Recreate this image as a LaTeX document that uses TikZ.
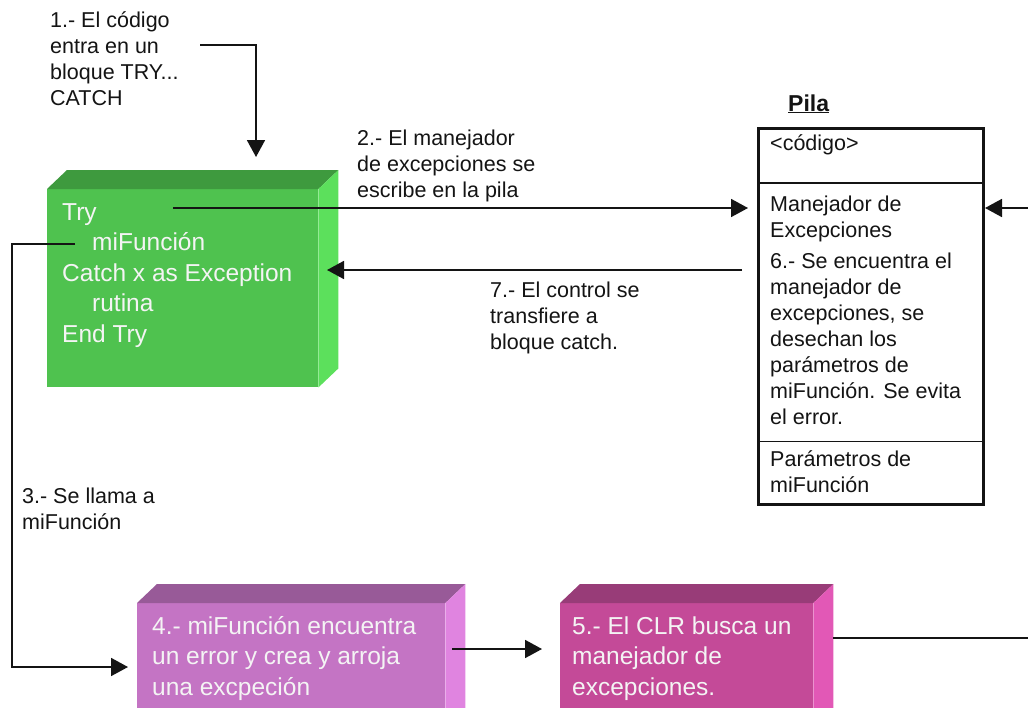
\documentclass[tikz,border=0pt]{standalone}
\usepackage{fontspec}
\setmainfont{Liberation Sans}
\usetikzlibrary{arrows.meta}
% block colours: front, top and side faces
\definecolor{grnfront}{RGB}{79,194,79}
\definecolor{grntop}{RGB}{62,154,62}
\definecolor{grnside}{RGB}{92,224,92}
\definecolor{lilfront}{RGB}{196,116,196}
\definecolor{liltop}{RGB}{152,90,152}
\definecolor{lilside}{RGB}{224,132,224}
\definecolor{magfront}{RGB}{196,74,152}
\definecolor{magtop}{RGB}{152,60,120}
\definecolor{magside}{RGB}{226,88,182}
\definecolor{boxtext}{RGB}{244,244,244}
\definecolor{ink}{RGB}{20,20,20}

% top and right faces of a 3D block whose front face is node #1
\newcommand\blockfaces[3]{%
  \fill[#2] (#1.north west) -- ++(20,-19) -- ([shift={(20,-19)}]#1.north east) -- (#1.north east) -- cycle;
  \fill[#3] (#1.north east) -- ++(20,-19) -- ([shift={(20,-19)}]#1.south east) -- (#1.south east) -- cycle;
}

\begin{document}
% multi-line texts are placed by the baseline of their last line
\begin{tikzpicture}[x=1pt,y=-1pt,
  conn/.style={line width=1.8pt, draw=ink, -{Triangle[length=17pt,width=18pt]}},
  note/.style={font=\fontsize{21.5}{26}\selectfont, align=left, inner sep=0pt, anchor=base west, text=ink},
  blocktext/.style={font=\fontsize{24.5}{30.5}\selectfont, align=left, inner sep=0pt, anchor=base west, text=boxtext},
  front/.style={draw=none, inner sep=0pt, anchor=north west},
]
\useasboundingbox (0,0) rectangle (1028,707);
\fill[white] (0,0) rectangle (1028,707);
\clip (0,0) rectangle (1028,707);

% Try ... Catch block
\node[front, fill=grnfront, minimum width=271pt, minimum height=198pt] (tryblk) at (47,189) {};
\blockfaces{tryblk}{grntop}{grnside}
\node[blocktext] (trycode) at (62,342)
  {Try\\\hspace{30pt}miFunción\\Catch x as Exception\\\hspace{30pt}rutina\\End Try};

% miFunción block
\node[front, fill=lilfront, minimum width=308pt, minimum height=160pt] (funcblk) at (137,603) {};
\blockfaces{funcblk}{liltop}{lilside}
\node[blocktext] (step4) at (152,695)
  {4.- miFunción encuentra\\un error y crea y arroja\\una excpeción};

% CLR block
\node[front, fill=magfront, minimum width=253pt, minimum height=160pt] (clrblk) at (560,603) {};
\blockfaces{clrblk}{magtop}{magside}
\node[blocktext] (step5) at (572,695)
  {5.- El CLR busca un\\manejador de\\excepciones.};

% the stack
\node[font=\bfseries\fontsize{23}{28}\selectfont, anchor=base west, inner sep=0pt, text=ink] (pilatitle) at (788,111) {\underline{Pila}};
\node[draw=ink, line width=2.6pt, minimum width=225pt, minimum height=376pt, inner sep=0pt, anchor=north west] (pila) at (757,127) {};
\draw[ink, line width=1.6pt] ([yshift=-56pt]pila.north west) -- ([yshift=-56pt]pila.north east);
\draw[ink, line width=1.6pt] ([yshift=64pt]pila.south west) -- ([yshift=64pt]pila.south east);
\node[note] (pcode) at (770,150) {<código>};
\node[note] (phandler) at (770,424)
  {Manejador de\\Excepciones\\[5pt]6.- Se encuentra el\\manejador de\\excepciones, se\\desechan los\\parámetros de\\miFunción. Se evita\\el error.};
\node[note] (pparams) at (770,492) {Parámetros de\\miFunción};

% step labels
\node[note] (step1) at (50,105) {1.- El código\\entra en un\\bloque TRY...\\CATCH};
\node[note] (step2) at (357,197) {2.- El manejador\\de excepciones se\\escribe en la pila};
\node[note] (step7) at (490,349) {7.- El control se\\transfiere a\\bloque catch.};
\node[note] (step3) at (22,529) {3.- Se llama a\\miFunción};

% connector ends
\coordinate (a1s) at (200,45);  \coordinate (a1e) at (256,157);
\coordinate (a2s) at (173,208); \coordinate (a2e) at (748,208);
\coordinate (a7s) at (742,270); \coordinate (a7e) at (327,270);
\coordinate (a3s) at (75,244);  \coordinate (a3c) at (12,244);  \coordinate (a3e) at (128,667);
\coordinate (a5s) at (452,649); \coordinate (a5e) at (542,649);
\coordinate (a6s) at (833,638); \coordinate (a6c) at (1040,638); \coordinate (a6e) at (985,208);

% connectors
\draw[conn] (a1s) -| (a1e);
\draw[conn] (a2s) -- (a2e);
\draw[conn] (a7s) -- (a7e);
\draw[conn] (a3s) -- (a3c) |- (a3e);
\draw[conn] (a5s) -- (a5e);
\draw[conn] (a6s) -- (a6c) |- (a6e);
\end{tikzpicture}
\end{document}
